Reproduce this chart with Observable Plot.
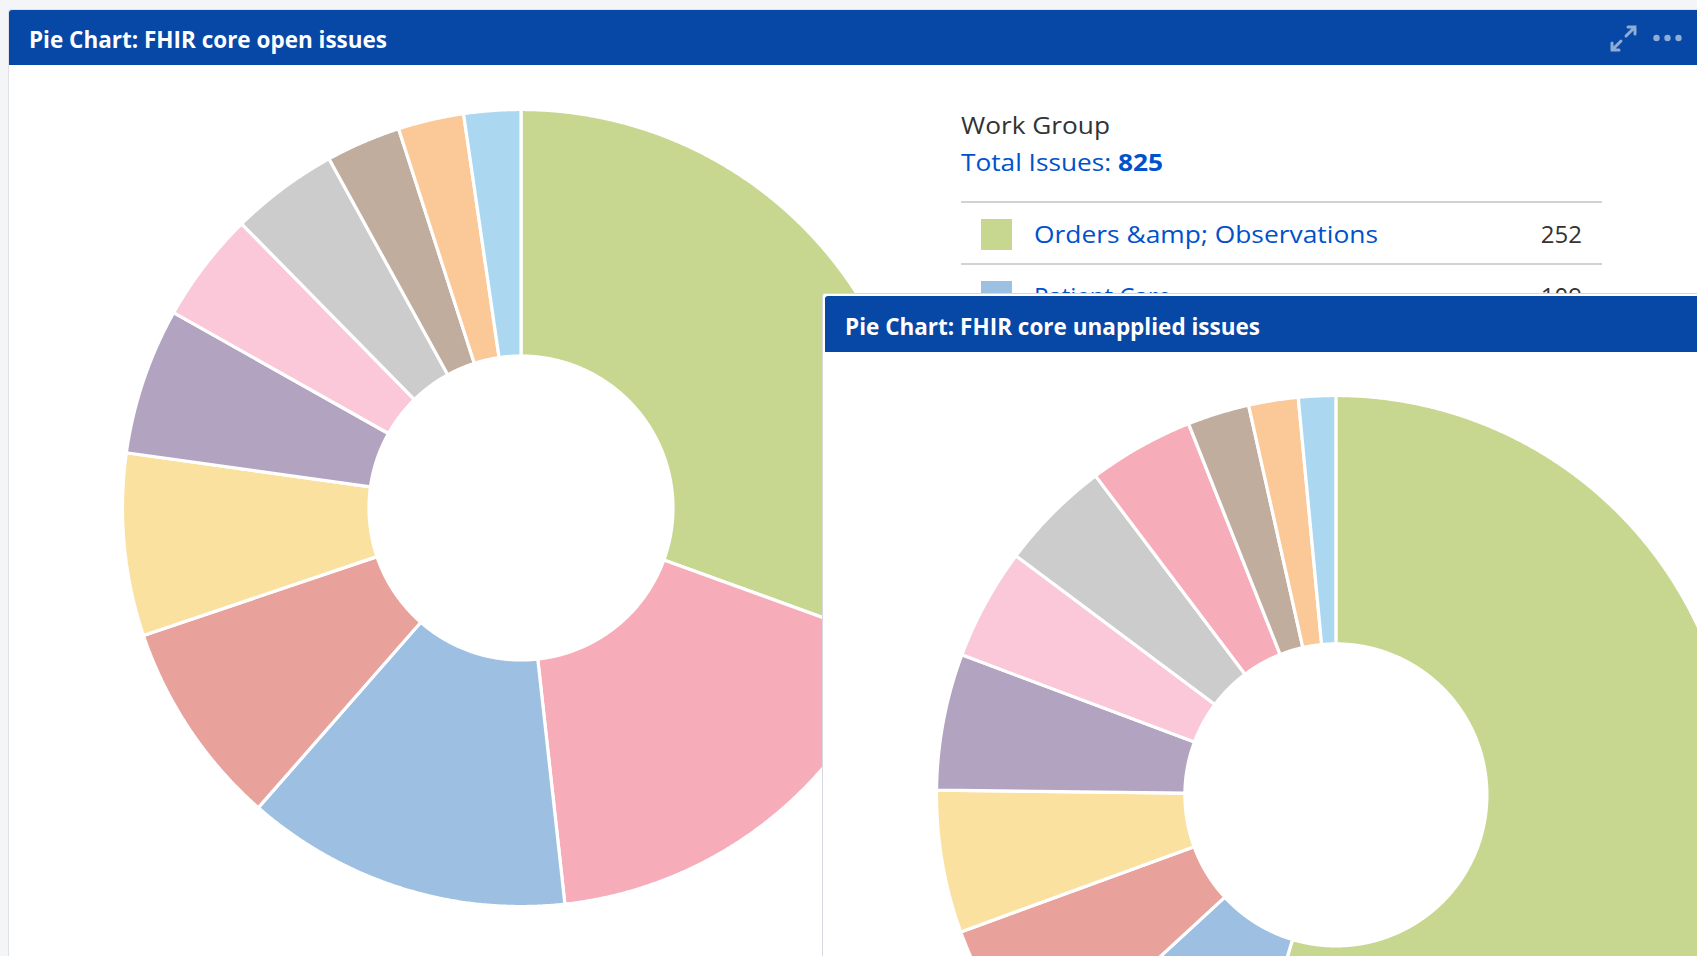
<!DOCTYPE html>
<html>
<head>
<meta charset="utf-8">
<script src="https://cdn.jsdelivr.net/npm/d3@7"></script>
<script src="https://cdn.jsdelivr.net/npm/@observablehq/plot@0.6"></script>
<style>
  html, body { margin: 0; padding: 0; width: 1697px; height: 956px; overflow: hidden; background: #f4f5f7; font-family: "Open Sans", sans-serif; }
  .abs { position: absolute; }
  .panel { position: absolute; background: #fff; border: 1px solid #dfe1e6; border-radius: 3px; box-sizing: border-box; }
  .hdr { position: absolute; background: #0747a6; border-radius: 3px 3px 0 0; }
  svg.layer { position: absolute; left: 0; top: 0; overflow: visible; }
</style>
</head>
<body>
<div id="p1" class="panel" style="left:8px;top:9px;width:1760px;height:1100px;"></div>
<div class="hdr" style="left:9px;top:10px;width:1760px;height:55px;"></div>
<div id="donut1" class="abs"></div>
<svg id="layer1" class="layer" width="1697" height="956"></svg>
<div id="p2" class="panel" style="left:822px;top:293px;width:1000px;height:800px;border-color:#d5d8de;"></div>
<div class="hdr" style="left:825px;top:296px;width:1000px;height:56px;"></div>
<svg id="layer2" class="layer" width="1697" height="956"></svg>
<div id="donut2" class="abs"></div>

<script>
// ---------------- data ----------------
const categories = [
  "Orders &amp; Observations", "Work group B", "Patient Care", "Work group D",
  "Work group E", "Work group F", "Work group G", "Work group H",
  "Work group I", "Work group J", "Work group K"
];
const colors = [
  "#c7d790", "#f6adb9", "#9dbfe1", "#e8a19b", "#fae1a0", "#b2a4c0",
  "#fac8d8", "#cccccc", "#c0ad9d", "#fbc898", "#acd7f0"
];
// open issues (total 825), in chart order
const openValues = [252, 146, 109, 69, 61, 49, 37, 36, 25, 22, 19];
const openOrder  = [0, 1, 2, 3, 4, 5, 6, 7, 8, 9, 10];
// unapplied issues, in chart order (category indices)
const unappliedOrder  = [0, 2, 3, 4, 5, 6, 7, 1, 8, 9, 10];
const unappliedValues = [218, 34, 25, 23, 22, 18, 18, 17, 10, 8, 6];

const legendTitle = "Work Group";
const totalLabel = "Total Issues: ";

// ---------------- donut with Plot ----------------
function donut(values, order, R, r) {
  const arcs = d3.pie().sort(null).value(d => d)(values);
  const pad = 5;
  const h = 1 + pad / R;
  const rr = r / R;
  const marks = arcs.map((a, i) => {
    const pts = [];
    const n = Math.max(4, Math.ceil((a.endAngle - a.startAngle) / (Math.PI / 720)));
    for (let k = 0; k <= n; k++) {
      const t = a.startAngle + (a.endAngle - a.startAngle) * k / n;
      pts.push({x: Math.sin(t), y: Math.cos(t)});
    }
    for (let k = n; k >= 0; k--) {
      const t = a.startAngle + (a.endAngle - a.startAngle) * k / n;
      pts.push({x: rr * Math.sin(t), y: rr * Math.cos(t)});
    }
    return Plot.line(pts, {x: "x", y: "y", curve: "linear-closed",
      fill: colors[order[i]], stroke: "#ffffff", strokeWidth: 3.2, strokeLinejoin: "miter"});
  });
  const size = 2 * (R + pad);
  return Plot.plot({
    width: size, height: size, margin: 0,
    x: {domain: [-h, h], axis: null},
    y: {domain: [-h, h], axis: null},
    style: {background: "transparent", maxWidth: "none", overflow: "visible"},
    marks
  });
}

function place(id, svg, cx, cy, R) {
  const el = document.getElementById(id);
  const pad = 5;
  el.style.left = (cx - R - pad) + "px";
  el.style.top = (cy - R - pad) + "px";
  el.style.width = (2 * (R + pad)) + "px";
  el.appendChild(svg);
}

place("donut1", donut(openValues, openOrder, 398.5, 152), 520.6, 507, 398.5);
place("donut2", donut(unappliedValues, unappliedOrder, 399.4, 151), 1335.6, 794.4, 399.4);

// ---------------- text layers ----------------
const NS = "http://www.w3.org/2000/svg";
function el(parent, tag, attrs, text) {
  const e = document.createElementNS(NS, tag);
  for (const k in attrs) e.setAttribute(k, attrs[k]);
  if (text != null) e.textContent = text;
  parent.appendChild(e);
  return e;
}
const L1 = document.getElementById("layer1");
const L2 = document.getElementById("layer2");

// header 1
el(L1, "text", {x: 29, y: 48, fill: "#fff", "font-family": "Open Sans", "font-weight": 700, "font-size": 23,
  textLength: 358, lengthAdjust: "spacingAndGlyphs"}, "Pie Chart: FHIR core open issues");
// header icons
const ic = "rgba(255,255,255,0.55)";
el(L1, "path", {d: "M1626,36 L1635,27 M1628,27 L1635,27 L1635,34", stroke: ic, "stroke-width": 3, fill: "none", "stroke-linecap": "round"});
el(L1, "path", {d: "M1621,41 L1612,50 M1612,43 L1612,50 L1619,50", stroke: ic, "stroke-width": 3, fill: "none", "stroke-linecap": "round"});
[1656.5, 1667.5, 1678.5].forEach(x => el(L1, "circle", {cx: x, cy: 38, r: 3.2, fill: ic}));

// legend
el(L1, "text", {x: 961, y: 134, fill: "#333", "font-family": "Open Sans", "font-size": 24,
  textLength: 149, lengthAdjust: "spacingAndGlyphs"}, legendTitle);
const tot = el(L1, "text", {x: 961, y: 171, fill: "#0052cc", "font-family": "Open Sans", "font-size": 24,
  textLength: 202, lengthAdjust: "spacingAndGlyphs"});
el(tot, "tspan", {}, totalLabel);
el(tot, "tspan", {"font-weight": 700}, String(d3.sum(openValues)));

el(L1, "line", {x1: 961, x2: 1602, y1: 202, y2: 202, stroke: "#d2d2d2", "stroke-width": 2});
el(L1, "line", {x1: 961, x2: 1602, y1: 264, y2: 264, stroke: "#d2d2d2", "stroke-width": 2});
const legendRows = [0, 2];
legendRows.forEach((ci, k) => {
  const y0 = 219 + k * 62;
  const vi = openOrder.indexOf(ci);
  el(L1, "rect", {x: 981, y: y0, width: 31, height: 31, fill: colors[ci]});
  const t = el(L1, "text", {x: 1034, y: y0 + 24, fill: "#0052cc", "font-family": "Open Sans", "font-size": 24}, categories[ci]);
  if (k === 0) { t.setAttribute("textLength", 344); t.setAttribute("lengthAdjust", "spacingAndGlyphs"); }
  el(L1, "text", {x: 1582, y: y0 + 24, fill: "#333", "font-family": "Open Sans", "font-size": 24, "text-anchor": "end"}, String(openValues[vi]));
});

// header 2
el(L2, "text", {x: 845, y: 335, fill: "#fff", "font-family": "Open Sans", "font-weight": 700, "font-size": 23,
  textLength: 415, lengthAdjust: "spacingAndGlyphs"}, "Pie Chart: FHIR core unapplied issues");
</script>
</body>
</html>
